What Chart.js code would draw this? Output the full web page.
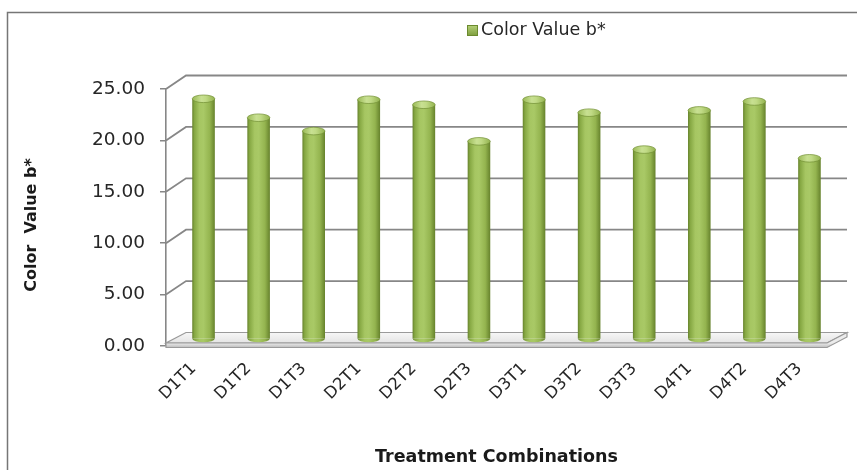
<!DOCTYPE html>
<html>
<head>
<meta charset="utf-8">
<script src="https://cdn.jsdelivr.net/npm/chart.js@4/dist/chart.umd.min.js"></script>
<style>
  html, body { margin: 0; padding: 0; background: #ffffff; }
  #wrap { width: 857px; height: 470px; }
</style>
</head>
<body>
<div id="wrap"><canvas id="c" width="857" height="470"></canvas></div>
<script>
// Treatment combinations and their measured b* colour values
const categories = ['D1T1', 'D1T2', 'D1T3', 'D2T1', 'D2T2', 'D2T3',
                    'D3T1', 'D3T2', 'D3T3', 'D4T1', 'D4T2', 'D4T3'];
const colorValueB = [23.39, 21.55, 20.25, 23.30, 22.81, 19.25,
                     23.30, 22.04, 18.45, 22.26, 23.13, 17.60];
const yTicks = [0, 5, 10, 15, 20, 25];

const seriesName = 'Color Value b*';
const xTitle = 'Treatment Combinations';
const yTitle = 'Color  Value b*';

// depth offset of the back wall relative to the front plane
const DX = 20, DY = -13.5;
const BAR_FRACTION = 0.41;
const CAP_RY = 3.8;
const FONT = '"DejaVu Sans", sans-serif';
const FALLBACK_GREEN = '#9bbb59';

function barGradient(ctx, x0, x1) {
  if (!isFinite(x0) || !isFinite(x1) || x1 <= x0) return FALLBACK_GREEN;
  const g = ctx.createLinearGradient(x0, 0, x1, 0);
  g.addColorStop(0.00, '#67832d');
  g.addColorStop(0.10, '#86a843');
  g.addColorStop(0.32, '#a6c662');
  g.addColorStop(0.50, '#a9c966');
  g.addColorStop(0.78, '#94b44f');
  g.addColorStop(1.00, '#66822c');
  return g;
}

function capGradient(ctx, x0, x1) {
  if (!isFinite(x0) || !isFinite(x1) || x1 <= x0) return '#b5d272';
  const g = ctx.createLinearGradient(x0, 0, x1, 0);
  g.addColorStop(0.00, '#9aba56');
  g.addColorStop(0.40, '#c8e092');
  g.addColorStop(0.60, '#c0da85');
  g.addColorStop(1.00, '#93b34f');
  return g;
}

// back wall, side wall, floor, depth shift for the cylinders, caps, legend, axis title and frame
const depthFrame = {
  id: 'depthFrame',
  beforeDraw(chart) {
    const { ctx } = chart;
    ctx.save();
    ctx.strokeStyle = '#767676';
    ctx.lineWidth = 1.5;
    ctx.strokeRect(7.5, 12.5, 900, 500);
    ctx.restore();
  },
  beforeDatasetsDraw(chart) {
    const { ctx, chartArea: a, scales: { y } } = chart;
    ctx.save();
    // walls and gridlines
    ctx.strokeStyle = '#878787';
    ctx.lineWidth = 1.8;
    y.ticks.forEach(t => {
      if (t.value === 0) return;
      const py = y.getPixelForValue(t.value);
      ctx.beginPath();
      ctx.moveTo(a.left, py);
      ctx.lineTo(a.left + DX, py + DY);
      ctx.lineTo(a.right + DX, py + DY);
      ctx.stroke();
    });
    // floor: top surface and thin front face
    const yb = y.getPixelForValue(0);
    const front = yb - 3;
    const fg = ctx.createLinearGradient(0, yb + DY, 0, front);
    fg.addColorStop(0, '#f7f7f7');
    fg.addColorStop(1, '#e4e4e4');
    ctx.fillStyle = fg;
    ctx.beginPath();
    ctx.moveTo(a.left, front);
    ctx.lineTo(a.right, front);
    ctx.lineTo(a.right + DX, yb + DY);
    ctx.lineTo(a.left + DX, yb + DY);
    ctx.closePath();
    ctx.fill();
    ctx.strokeStyle = '#9a9a9a';
    ctx.lineWidth = 1.2;
    ctx.stroke();
    const face = ctx.createLinearGradient(0, front, 0, yb + 1.5);
    face.addColorStop(0, '#ececec');
    face.addColorStop(1, '#bcbcbc');
    ctx.fillStyle = face;
    ctx.beginPath();
    ctx.moveTo(a.left, front);
    ctx.lineTo(a.right, front);
    ctx.lineTo(a.right + DX, yb + DY);
    ctx.lineTo(a.right + DX, yb + DY + 4.5);
    ctx.lineTo(a.right, yb + 1.5);
    ctx.lineTo(a.left, yb + 1.5);
    ctx.closePath();
    ctx.fill();
    ctx.strokeStyle = '#9a9a9a';
    ctx.stroke();
    ctx.restore();
    // cylinders stand half way into the depth
    ctx.save();
    ctx.translate(DX / 2, DY / 2);
  },
  afterDatasetsDraw(chart) {
    const { ctx } = chart;
    const meta = chart.getDatasetMeta(0);
    meta.data.forEach(el => {
      const { x, y, base, width } = el.getProps(['x', 'y', 'base', 'width'], true);
      const x0 = x - width / 2, x1 = x + width / 2;
      // rounded bottom
      ctx.beginPath();
      ctx.ellipse(x, base, width / 2, CAP_RY, 0, 0, Math.PI);
      ctx.closePath();
      ctx.fillStyle = barGradient(ctx, x0, x1);
      ctx.fill();
      // top cap
      ctx.beginPath();
      ctx.ellipse(x, y, width / 2, CAP_RY, 0, 0, Math.PI * 2);
      ctx.fillStyle = capGradient(ctx, x0, x1);
      ctx.fill();
      ctx.strokeStyle = 'rgba(115,145,55,0.9)';
      ctx.lineWidth = 0.8;
      ctx.stroke();
    });
    ctx.restore();
  },
  afterDraw(chart) {
    const { ctx, chartArea: a } = chart;
    ctx.save();
    // legend
    const mx = 467, my = 25, ms = 11;
    const lg = ctx.createLinearGradient(mx, my, mx, my + ms);
    lg.addColorStop(0, '#b7d27a');
    lg.addColorStop(1, '#7c9c3c');
    ctx.fillStyle = lg;
    ctx.fillRect(mx, my, ms, ms);
    ctx.strokeStyle = '#6b8a2e';
    ctx.lineWidth = 1;
    ctx.strokeRect(mx + 0.5, my + 0.5, ms - 1, ms - 1);
    ctx.fillStyle = '#262626';
    ctx.font = '17.5px ' + FONT;
    ctx.textBaseline = 'middle';
    ctx.textAlign = 'left';
    ctx.fillText(seriesName, 481, my + ms / 2);
    // value axis title
    ctx.translate(32, 225);
    ctx.rotate(-Math.PI / 2);
    ctx.font = 'bold 16px ' + FONT;
    ctx.textAlign = 'center';
    ctx.fillStyle = '#1a1a1a';
    ctx.fillText(yTitle, 0, 0);
    ctx.restore();
  }
};

new Chart(document.getElementById('c'), {
  type: 'bar',
  data: {
    labels: categories,
    datasets: [{
      label: seriesName,
      data: colorValueB,
      backgroundColor: (c) => {
        const ch = c.chart, xs = ch.scales && ch.scales.x;
        if (!xs || c.dataIndex === undefined) return FALLBACK_GREEN;
        const cx = xs.getPixelForValue(c.dataIndex);
        const w = (xs.width / categories.length) * BAR_FRACTION;
        return barGradient(ch.ctx, cx - w / 2, cx + w / 2);
      },
      borderWidth: 0,
      barPercentage: BAR_FRACTION,
      categoryPercentage: 1.0
    }]
  },
  options: {
    responsive: false,
    devicePixelRatio: 1,
    animation: false,
    layout: { padding: { left: 8, right: 30, top: 89, bottom: 0 } },
    plugins: {
      legend: { display: false },
      tooltip: { enabled: false }
    },
    scales: {
      x: {
        afterFit: (s) => { s.height = 124; },
        grid: { display: false, drawTicks: false },
        border: { display: false },
        ticks: {
          minRotation: 45, maxRotation: 45,
          padding: 13,
          color: '#262626',
          font: { family: FONT, size: 16.5 }
        },
        title: {
          display: true,
          text: xTitle,
          color: '#1a1a1a',
          font: { family: FONT, size: 17.5, weight: 'bold' },
          padding: { top: 0, bottom: 2 }
        }
      },
      y: {
        min: 0, max: 25,
        afterFit: (s) => { s.width = 158; },
        afterBuildTicks: (s) => { s.ticks = yTicks.map(v => ({ value: v })); },
        grid: {
          drawOnChartArea: false,
          drawTicks: true,
          tickLength: 6,
          color: '#878787',
          lineWidth: 1.5
        },
        border: { display: true, color: '#878787', width: 1.6 },
        ticks: {
          padding: 15,
          color: '#262626',
          font: { family: FONT, size: 18.5 },
          callback: (v) => Number(v).toFixed(2)
        },
        title: { display: false }
      }
    }
  },
  plugins: [depthFrame]
});
</script>
</body>
</html>
